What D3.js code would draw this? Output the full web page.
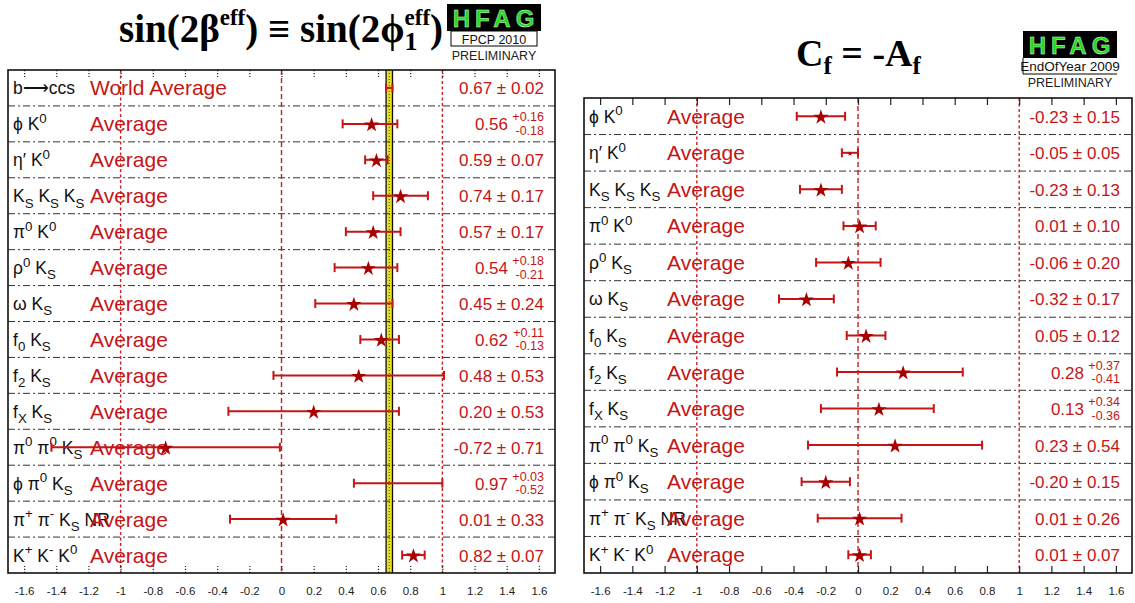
<!DOCTYPE html>
<html><head><meta charset="utf-8">
<script src="https://cdn.jsdelivr.net/npm/d3@7"></script>
<style>body{margin:0;background:#fff}svg{display:block}text{white-space:pre}</style>
</head><body><svg id="c" width="1135" height="603"></svg>
<script>
// ---------- data ----------
const sinCategories = ["b⟶ccs","ϕ K^{0}","η′ K^{0}","K_{S} K_{S} K_{S}","π^{0} K^{0}","ρ^{0} K_{S}","ω K_{S}","f_{0} K_{S}","f_{2} K_{S}","f_{X} K_{S}","π^{0} π^{0} K_{S}","ϕ π^{0} K_{S}","π^{+} π^{-} K_{S} NR","K^{+} K^{-} K^{0}"];
const sinTags = ["World Average","Average","Average","Average","Average","Average","Average","Average","Average","Average","Average","Average","Average","Average"];
const sinValues   = [0.67,0.56,0.59,0.74,0.57,0.54,0.45,0.62,0.48,0.20,-0.72,0.97,0.01,0.82];
const sinErrPlus  = [0.02,0.16,0.07,0.17,0.17,0.18,0.24,0.11,0.53,0.53,0.71,0.03,0.33,0.07];
const sinErrMinus = [0.02,0.18,0.07,0.17,0.17,0.21,0.24,0.13,0.53,0.53,0.71,0.52,0.33,0.07];

const cfCategories = ["ϕ K^{0}","η′ K^{0}","K_{S} K_{S} K_{S}","π^{0} K^{0}","ρ^{0} K_{S}","ω K_{S}","f_{0} K_{S}","f_{2} K_{S}","f_{X} K_{S}","π^{0} π^{0} K_{S}","ϕ π^{0} K_{S}","π^{+} π^{-} K_{S} NR","K^{+} K^{-} K^{0}"];
const cfTags = ["Average","Average","Average","Average","Average","Average","Average","Average","Average","Average","Average","Average","Average"];
const cfValues   = [-0.23,-0.05,-0.23,0.01,-0.06,-0.32,0.05,0.28,0.13,0.23,-0.20,0.01,0.01];
const cfErrPlus  = [0.15,0.05,0.13,0.10,0.20,0.17,0.12,0.37,0.34,0.54,0.15,0.26,0.07];
const cfErrMinus = [0.15,0.05,0.13,0.10,0.20,0.17,0.12,0.41,0.36,0.54,0.15,0.26,0.07];

const tickValues = [-1.6,-1.4,-1.2,-1,-0.8,-0.6,-0.4,-0.2,0,0.2,0.4,0.6,0.8,1,1.2,1.4,1.6];
const refLines = [-1,0,1];
const xDomain = [-1.7,1.7];

// ---------- helpers ----------
const svg = d3.select("#c");
const SANS = "'Liberation Sans', Arial, Helvetica, sans-serif";
const SERIF = "'Liberation Serif', 'Times New Roman', serif";
const RED = "#c41616", DARKRED = "#a80000";

function tokens(s){
  const out=[]; const re=/([\^_])\{([^}]*)\}|([^\^_]+)/g; let m;
  while((m=re.exec(s))){ if(m[3]) out.push({t:"n",s:m[3]}); else out.push({t:m[1]==="^"?"sup":"sub",s:m[2]}); }
  return out;
}
function rich(g,x,y,str,size,fill,anchor){
  const t=g.append("text").attr("x",x).attr("y",y).attr("font-size",size)
    .attr("font-family",SANS).attr("fill",fill).attr("text-anchor",anchor||"start");
  let cur=0;
  tokens(str).forEach(k=>{
    const off = k.t==="sup" ? -0.42*size : k.t==="sub" ? 0.30*size : 0;
    t.append("tspan").attr("dy",off-cur).attr("font-size",k.t==="n"?size:size*0.76).text(k.s);
    cur=off;
  });
  return t;
}

function panel(cfg){
  const {x0,x1,y0,y1,cats,tags,vals,ep,em,dottedTicks,labelX,tagX,valX,band} = cfg;
  const g = svg.append("g");
  const x = d3.scaleLinear().domain(xDomain).range([x0,x1]);
  const y = d3.scaleBand().domain(d3.range(cats.length)).range([y0,y1]);
  const bw = y.bandwidth();
  const cy = i => y(i)+bw/2;

  if(band){
    const lo=x(vals[0]-em[0]), hi=x(vals[0]+ep[0]);
    g.append("rect").attr("x",lo).attr("y",y0).attr("width",hi-lo).attr("height",y1-y0)
      .attr("fill","#e6df1e").attr("stroke","none");
    g.selectAll(".be").data([lo,hi]).join("line").attr("x1",d=>d).attr("x2",d=>d)
      .attr("y1",y0).attr("y2",y1).attr("stroke","#111").attr("stroke-width",1.3);
    g.append("line").attr("x1",x(vals[0])).attr("x2",x(vals[0])).attr("y1",y0).attr("y2",y1)
      .attr("stroke","#444").attr("stroke-width",1).attr("stroke-dasharray","1,2");
  }
  g.selectAll(".sep").data(d3.range(1,cats.length)).join("line")
    .attr("x1",x0).attr("x2",x1).attr("y1",i=>y(i)).attr("y2",i=>y(i))
    .attr("stroke","#333").attr("stroke-width",1).attr("stroke-dasharray","7,3,2,3");
  g.selectAll(".ref").data(refLines).join("line")
    .attr("x1",d=>x(d)).attr("x2",d=>x(d)).attr("y1",y0).attr("y2",y1)
    .attr("stroke","#c82020").attr("stroke-width",1.4)
    .attr("stroke-dasharray",d=>d===0?"5,3":"3,2.5");

  cats.forEach((c,i)=>{
    rich(g,labelX,cy(i)+6.5,c,17.5,"#111");
    g.append("text").attr("x",tagX).attr("y",cy(i)+7.5).attr("font-size",21)
      .attr("font-family",SANS).attr("fill",RED).text(tags[i]);
    const v=vals[i].toFixed(2);
    if(Math.abs(ep[i]-em[i])<1e-9){
      g.append("text").attr("x",valX).attr("y",cy(i)+6.5).attr("font-size",17)
        .attr("font-family",SANS).attr("fill",RED).attr("text-anchor","end")
        .text(v+" ± "+ep[i].toFixed(2));
    } else {
      g.append("text").attr("x",valX-36).attr("y",cy(i)+6.5).attr("font-size",17)
        .attr("font-family",SANS).attr("fill",RED).attr("text-anchor","end").text(v);
      g.append("text").attr("x",valX).attr("y",cy(i)-2.5).attr("font-size",12.5)
        .attr("font-family",SANS).attr("fill",RED).attr("text-anchor","end").text("+"+ep[i].toFixed(2));
      g.append("text").attr("x",valX).attr("y",cy(i)+11).attr("font-size",12.5)
        .attr("font-family",SANS).attr("fill",RED).attr("text-anchor","end").text("-"+em[i].toFixed(2));
    }
  });

  const eb = g.selectAll(".eb").data(d3.range(cats.length)).join("g");
  eb.append("line").attr("x1",i=>x(vals[i]-em[i])).attr("x2",i=>x(vals[i]+ep[i]))
    .attr("y1",cy).attr("y2",cy).attr("stroke",RED).attr("stroke-width",2);
  eb.append("line").attr("x1",i=>x(vals[i]-em[i])).attr("x2",i=>x(vals[i]-em[i]))
    .attr("y1",i=>cy(i)-4.5).attr("y2",i=>cy(i)+4.5).attr("stroke",RED).attr("stroke-width",2);
  eb.append("line").attr("x1",i=>x(vals[i]+ep[i])).attr("x2",i=>x(vals[i]+ep[i]))
    .attr("y1",i=>cy(i)-4.5).attr("y2",i=>cy(i)+4.5).attr("stroke",RED).attr("stroke-width",2);
  eb.each(function(i){
    const half = Math.min(x(vals[i]+ep[i])-x(vals[i]), x(vals[i])-x(vals[i]-em[i]));
    const size = half<5 ? 0 : half<10 ? 8 : 70;
    if(size>0) d3.select(this).append("path")
      .attr("d",d3.symbol(d3.symbolStar,size)())
      .attr("transform",`translate(${x(vals[i])},${cy(i)+1})`).attr("fill",DARKRED);
  });

  const fmt = d=>String(+d.toFixed(1));
  const ab = g.append("g").attr("transform",`translate(0,${y1})`)
    .call(d3.axisBottom(x).tickValues(tickValues).tickSize(-7).tickPadding(14).tickFormat(fmt));
  const at = g.append("g").attr("transform",`translate(0,${y0})`)
    .call(d3.axisTop(x).tickValues(tickValues).tickSize(-7).tickFormat(""));
  [ab,at].forEach(a=>{
    a.select(".domain").remove();
    a.selectAll(".tick line").attr("stroke","#222").attr("stroke-width",1.2)
      .attr("stroke-dasharray",dottedTicks?"1.2,1.8":null);
  });
  ab.selectAll(".tick text").attr("font-size",11.5).attr("font-family",SANS).attr("fill","#222");

  g.append("rect").attr("x",x0).attr("y",y0).attr("width",x1-x0).attr("height",y1-y0)
    .attr("fill","none").attr("stroke","#111").attr("stroke-width",1.6);
}

panel({x0:8,x1:555,y0:70,y1:573,cats:sinCategories,tags:sinTags,vals:sinValues,ep:sinErrPlus,em:sinErrMinus,
  dottedTicks:true,labelX:13,tagX:90,valX:544,band:true});
panel({x0:584,x1:1132,y0:98,y1:573,cats:cfCategories,tags:cfTags,vals:cfValues,ep:cfErrPlus,em:cfErrMinus,
  dottedTicks:false,labelX:589,tagX:667,valX:1120,band:false});

// ---------- titles ----------
function seq(x,y,parts){
  let cx=x, stackStart=null;
  parts.forEach(p=>{
    const t=svg.append("text").attr("y",y+(p.dy||0)).attr("font-size",p.size)
      .attr("font-family",SERIF).attr("font-weight","bold").attr("fill","#000").text(p.s);
    if(p.stack){ t.attr("x",stackStart); const w=t.node().getComputedTextLength(); cx=Math.max(cx,stackStart+w); }
    else { stackStart=cx; t.attr("x",cx); cx+=t.node().getComputedTextLength(); }
  });
}
seq(119,42,[
  {s:"sin(2β",size:39},
  {s:"eff",size:23,dy:-17},
  {s:") ≡ sin(2ϕ",size:39},
  {s:"eff",size:23,dy:-17},
  {s:"1",size:26,dy:8,stack:true},
  {s:")",size:39}
]);
seq(796,66,[
  {s:"C",size:38},
  {s:"f",size:25,dy:8},
  {s:" = -A",size:38},
  {s:"f",size:25,dy:8}
]);

// ---------- HFAG logos ----------
function logo(xc,ytop,sub,boxed){
  const w=94;
  svg.append("rect").attr("x",xc-w/2).attr("y",ytop).attr("width",w).attr("height",27).attr("fill","#000");
  svg.append("text").attr("x",xc+2).attr("y",ytop+23).attr("text-anchor","middle").attr("font-size",24)
    .attr("font-family",SANS).attr("font-weight","bold").attr("letter-spacing",5)
    .attr("fill","#22d822").attr("stroke","#d8ffd8").attr("stroke-width",0.5).text("HFAG");
  if(boxed) svg.append("rect").attr("x",xc-w/2+4).attr("y",ytop+27).attr("width",w-8).attr("height",15)
    .attr("fill","#fff").attr("stroke","#000").attr("stroke-width",1);
  else svg.append("path").attr("d",`M${xc-w/2},${ytop+27}V${ytop+43}H${xc+w/2}`).attr("fill","none").attr("stroke","#000").attr("stroke-width",1);
  svg.append("text").attr("x",xc).attr("y",ytop+39.5).attr("text-anchor","middle").attr("font-size",boxed?12.5:13.5)
    .attr("font-family",SANS).attr("fill","#111").text(sub);
  svg.append("text").attr("x",xc).attr("y",ytop+56).attr("text-anchor","middle").attr("font-size",12.5)
    .attr("font-family",SANS).attr("fill","#222").text("PRELIMINARY");
}
logo(494,4,"FPCP 2010",true);
logo(1070,31,"EndOfYear 2009",false);
</script></body></html>
